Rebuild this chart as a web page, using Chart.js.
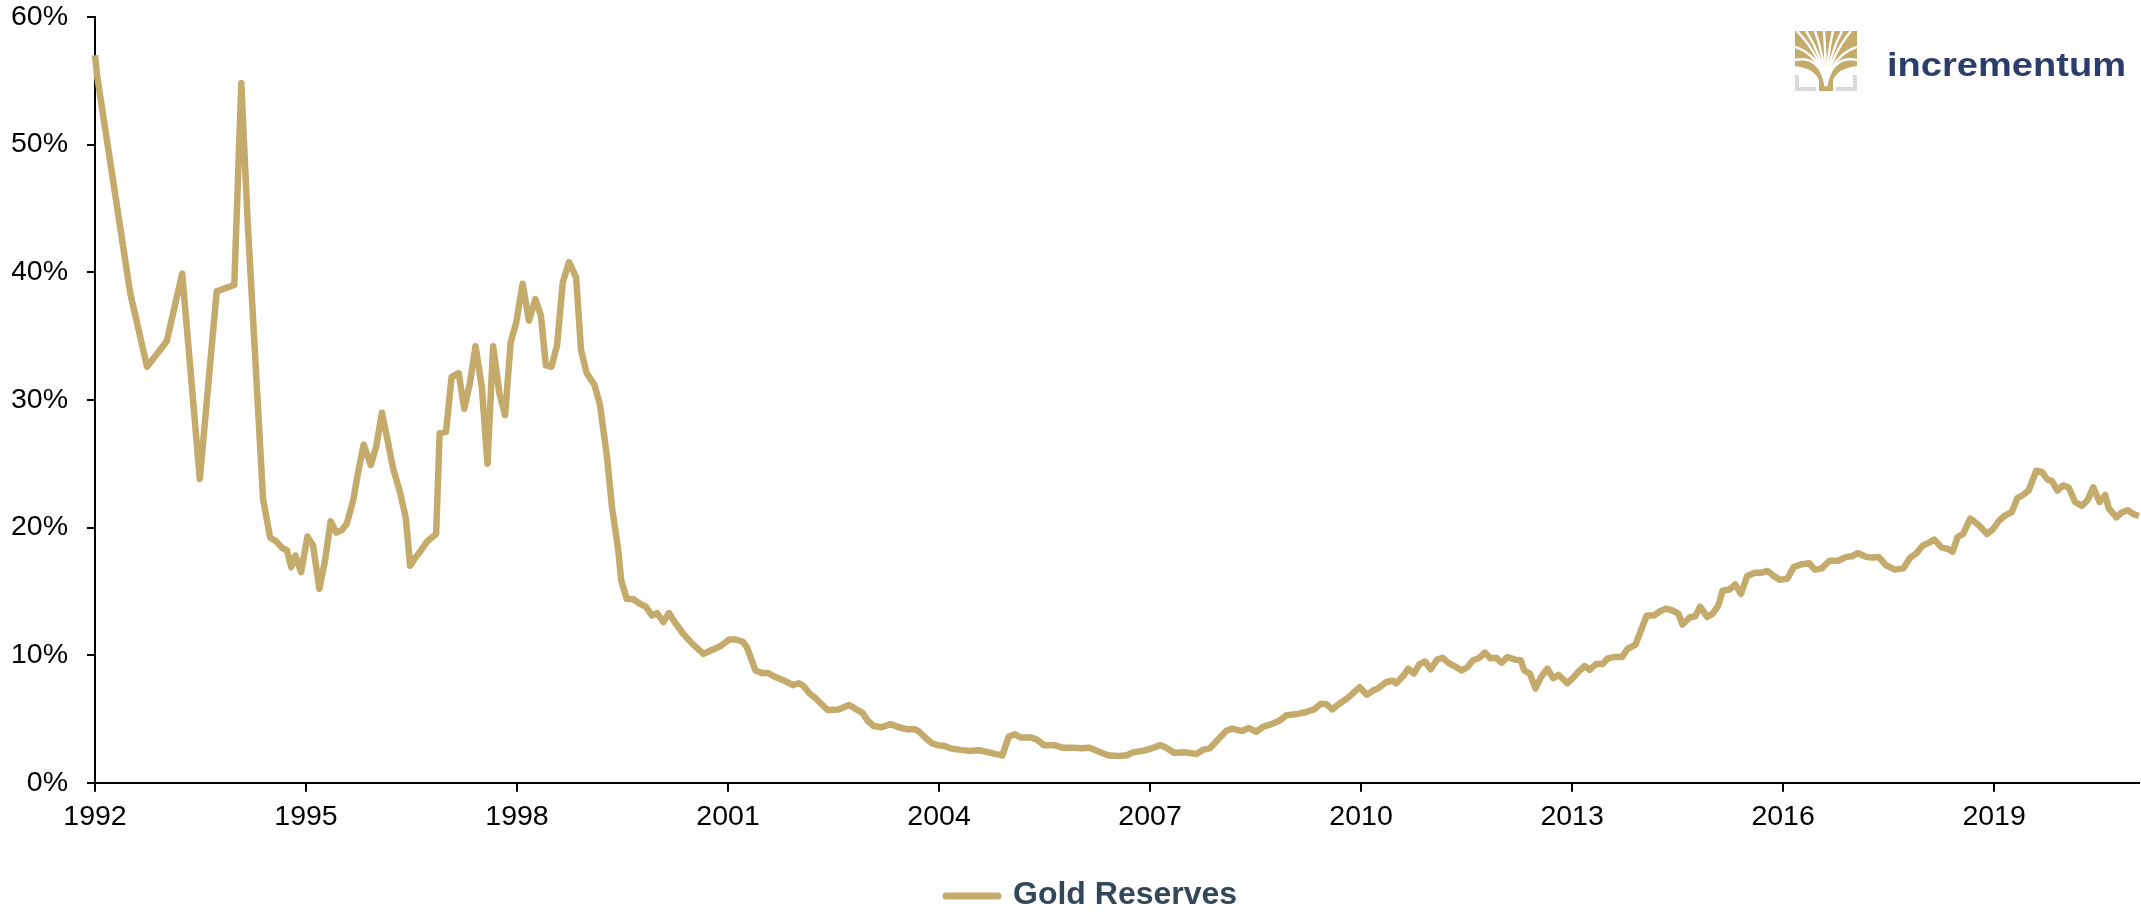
<!DOCTYPE html>
<html>
<head>
<meta charset="utf-8">
<title>Gold Reserves</title>
<script src="https://cdn.jsdelivr.net/npm/chart.js"></script>
<style>
  body { margin: 0; background: #fff; }
  #wrap { width: 2141px; height: 912px; position: relative; }
</style>
</head>
<body>
<div id="wrap"><canvas id="myChart"></canvas></div>
<script>
// gold share of reserves (x = decimal year, y = %)
const years_1992_1999 = [1992.00, 1992.03, 1992.50, 1992.74, 1993.02, 1993.24, 1993.49, 1993.73, 1993.98, 1994.08,
  1994.17, 1994.39, 1994.49, 1994.58, 1994.66, 1994.73, 1994.79, 1994.85, 1994.93, 1995.02,
  1995.10, 1995.19, 1995.27, 1995.35, 1995.43, 1995.51, 1995.58, 1995.67, 1995.74, 1995.82,
  1995.92, 1996.00, 1996.08, 1996.15, 1996.24, 1996.34, 1996.42, 1996.48, 1996.55, 1996.62,
  1996.72, 1996.85, 1996.90, 1996.99, 1997.07, 1997.17, 1997.25, 1997.33, 1997.41, 1997.50,
  1997.58, 1997.66, 1997.75, 1997.83, 1997.91, 1997.99, 1998.08, 1998.17, 1998.26, 1998.34,
  1998.41, 1998.49, 1998.57, 1998.65, 1998.74, 1998.84, 1998.91, 1998.99, 1999.10, 1999.18,
  1999.28, 1999.35, 1999.44, 1999.48, 1999.56, 1999.65, 1999.74, 1999.83, 1999.92, 1999.99];
const gold_1992_1999 = [57.0, 55.4, 38.4, 32.6, 34.6, 39.9, 23.8, 38.5, 39.0, 54.8,
  44.0, 22.2, 19.2, 18.9, 18.4, 18.2, 16.9, 17.8, 16.5, 19.3,
  18.6, 15.2, 17.4, 20.5, 19.6, 19.8, 20.3, 22.1, 24.3, 26.5,
  24.9, 26.4, 29.0, 27.1, 24.6, 22.7, 20.7, 17.0, 17.6, 18.1,
  18.9, 19.5, 27.4, 27.5, 31.8, 32.1, 29.3, 31.3, 34.2, 31.0,
  25.0, 34.2, 30.5, 28.8, 34.5, 36.1, 39.1, 36.2, 37.9, 36.6,
  32.7, 32.6, 34.3, 39.2, 40.8, 39.6, 33.9, 32.1, 31.2, 29.6,
  25.5, 21.6, 18.2, 15.9, 14.4, 14.4, 14.05, 13.8, 13.1, 13.3];

const years_2000_2008 = [2000.08, 2000.16, 2000.24, 2000.36, 2000.49, 2000.65, 2000.77, 2000.89, 2001.01, 2001.10,
  2001.21, 2001.27, 2001.39, 2001.48, 2001.57, 2001.69, 2001.80, 2001.92, 2002.01, 2002.07,
  2002.16, 2002.25, 2002.34, 2002.42, 2002.57, 2002.72, 2002.81, 2002.91, 2002.98, 2003.07,
  2003.18, 2003.31, 2003.43, 2003.54, 2003.66, 2003.72, 2003.81, 2003.90, 2003.98, 2004.07,
  2004.16, 2004.28, 2004.43, 2004.57, 2004.69, 2004.81, 2004.90, 2004.99, 2005.08, 2005.16,
  2005.31, 2005.40, 2005.49, 2005.64, 2005.75, 2005.90, 2006.02, 2006.14, 2006.25, 2006.40,
  2006.55, 2006.67, 2006.76, 2006.90, 2007.02, 2007.15, 2007.23, 2007.34, 2007.49, 2007.66,
  2007.76, 2007.85, 2007.96, 2008.08, 2008.17, 2008.31, 2008.40, 2008.51, 2008.61, 2008.73,
  2008.85, 2008.94];
const gold_2000_2008 = [12.6, 13.3, 12.6, 11.7, 10.9, 10.1, 10.4, 10.7, 11.2, 11.25,
  11.05, 10.6, 8.8, 8.6, 8.6, 8.25, 8.0, 7.65, 7.8, 7.6,
  7.0, 6.6, 6.1, 5.7, 5.75, 6.1, 5.8, 5.5, 4.9, 4.45,
  4.35, 4.6, 4.35, 4.2, 4.2, 4.0, 3.5, 3.1, 2.95, 2.9,
  2.7, 2.6, 2.5, 2.55, 2.4, 2.25, 2.15, 3.6, 3.8, 3.55,
  3.55, 3.35, 2.95, 2.95, 2.75, 2.75, 2.7, 2.75, 2.5, 2.15,
  2.1, 2.15, 2.4, 2.5, 2.7, 2.95, 2.75, 2.35, 2.4, 2.25,
  2.6, 2.7, 3.35, 4.05, 4.25, 4.05, 4.3, 4.0, 4.4, 4.6,
  4.9, 5.3];

const years_2009_2021 = [2009.10, 2009.22, 2009.33, 2009.43, 2009.51, 2009.59, 2009.69, 2009.80, 2009.87, 2009.98,
  2010.08, 2010.18, 2010.24, 2010.36, 2010.45, 2010.50, 2010.61, 2010.67, 2010.75, 2010.83,
  2010.91, 2010.99, 2011.08, 2011.16, 2011.24, 2011.34, 2011.43, 2011.51, 2011.59, 2011.67,
  2011.76, 2011.84, 2011.92, 2012.00, 2012.08, 2012.19, 2012.27, 2012.32, 2012.40, 2012.48,
  2012.56, 2012.65, 2012.73, 2012.81, 2012.93, 2013.01, 2013.09, 2013.18, 2013.25, 2013.34,
  2013.43, 2013.51, 2013.59, 2013.71, 2013.79, 2013.90, 2013.98, 2014.06, 2014.16, 2014.24,
  2014.33, 2014.43, 2014.51, 2014.57, 2014.67, 2014.75, 2014.82, 2014.92, 2015.00, 2015.08,
  2015.14, 2015.24, 2015.32, 2015.40, 2015.49, 2015.60, 2015.68, 2015.78, 2015.88, 2015.96,
  2016.06, 2016.15, 2016.25, 2016.37, 2016.45, 2016.55, 2016.66, 2016.78, 2016.90, 2016.98,
  2017.06, 2017.18, 2017.26, 2017.36, 2017.46, 2017.59, 2017.71, 2017.80, 2017.89, 2017.99,
  2018.07, 2018.15, 2018.25, 2018.35, 2018.41, 2018.48, 2018.56, 2018.66, 2018.78, 2018.90,
  2018.98, 2019.08, 2019.16, 2019.25, 2019.33, 2019.41, 2019.49, 2019.60, 2019.68, 2019.76,
  2019.82, 2019.90, 2019.98, 2020.06, 2020.15, 2020.25, 2020.33, 2020.41, 2020.50, 2020.58,
  2020.63, 2020.74, 2020.82, 2020.90, 2020.98, 2021.06];
const gold_2009_2021 = [5.4, 5.55, 5.75, 6.2, 6.15, 5.75, 6.2, 6.6, 6.95, 7.5,
  6.9, 7.25, 7.4, 7.9, 8.0, 7.8, 8.45, 8.95, 8.55, 9.3,
  9.5, 8.9, 9.65, 9.8, 9.4, 9.1, 8.8, 9.05, 9.6, 9.75,
  10.2, 9.75, 9.8, 9.4, 9.85, 9.65, 9.6, 8.8, 8.55, 7.4,
  8.3, 8.95, 8.2, 8.45, 7.8, 8.2, 8.7, 9.15, 8.85, 9.3,
  9.3, 9.75, 9.85, 9.85, 10.5, 10.8, 11.95, 13.1, 13.1, 13.4,
  13.65, 13.5, 13.25, 12.4, 12.95, 13.05, 13.8, 13.0, 13.25, 13.9,
  15.05, 15.15, 15.55, 14.8, 16.2, 16.45, 16.45, 16.6, 16.15, 15.9,
  16.0, 16.9, 17.1, 17.2, 16.7, 16.8, 17.4, 17.4, 17.7, 17.75,
  18.0, 17.7, 17.65, 17.7, 17.05, 16.7, 16.8, 17.6, 17.95, 18.6,
  18.8, 19.05, 18.45, 18.3, 18.1, 19.25, 19.5, 20.7, 20.2, 19.5,
  19.85, 20.6, 20.95, 21.2, 22.3, 22.55, 22.9, 24.45, 24.35, 23.75,
  23.65, 22.9, 23.3, 23.15, 22.0, 21.7, 22.15, 23.15, 22.0, 22.55,
  21.5, 20.8, 21.2, 21.35, 21.05, 20.9];

// tick labels
const yearTicks = [1992, 1995, 1998, 2001, 2004, 2007, 2010, 2013, 2016, 2019];
const percentTicks = [0, 10, 20, 30, 40, 50, 60];

const gold = "#c4aa6b";
const navy = "#2b3e6b";
const fontFamily = "Arial, 'Liberation Sans', sans-serif";

function toPoints(xs, ys) {
  return xs.map((x, i) => ({ x: x, y: ys[i] }));
}

const points = [].concat(
  toPoints(years_1992_1999, gold_1992_1999),
  toPoints(years_2000_2008, gold_2000_2008),
  toPoints(years_2009_2021, gold_2009_2021)
);

// legend under the chart, drawn by hand so it sits where the original has it
const bottomLegend = {
  id: "bottomLegend",
  afterDraw(chart) {
    const ctx = chart.ctx;
    const ds = chart.data.datasets[0];
    ctx.save();
    ctx.strokeStyle = ds.borderColor;
    ctx.lineWidth = 7;
    ctx.lineCap = "round";
    ctx.beginPath();
    ctx.moveTo(946, 896);
    ctx.lineTo(998, 896);
    ctx.stroke();
    ctx.fillStyle = "#33475b";
    ctx.font = "bold 32px " + fontFamily;
    ctx.textBaseline = "middle";
    ctx.fillText(ds.label, 1013, 895);
    ctx.restore();
  }
};

// incrementum logo, top right
const logo = {
  id: "logo",
  afterDraw(chart) {
    const ctx = chart.ctx;
    ctx.save();

    // canopy + trunk
    ctx.save();
    ctx.beginPath();
    ctx.moveTo(1795, 31);
    ctx.lineTo(1857, 31);
    ctx.lineTo(1857, 66);
    ctx.quadraticCurveTo(1838, 68, 1833, 80);
    ctx.lineTo(1833, 91);
    ctx.lineTo(1819, 91);
    ctx.lineTo(1819, 80);
    ctx.quadraticCurveTo(1814, 68, 1795, 66);
    ctx.closePath();
    ctx.clip();
    ctx.fillStyle = gold;
    ctx.fillRect(1795, 31, 62, 60);
    ctx.strokeStyle = "#fff";
    ctx.lineWidth = 2.4;
    const ends = [[1795, 60], [1795, 47], [1797, 31], [1806, 31], [1815, 31], [1824, 31],
                  [1833, 31], [1842, 31], [1851, 31], [1857, 47], [1857, 60]];
    ends.forEach(function (e) {
      ctx.beginPath();
      ctx.moveTo(1826, 86);
      ctx.quadraticCurveTo(1826 + (e[0] - 1826) * 0.2, 55, e[0], e[1]);
      ctx.stroke();
    });
    ctx.restore();

    // grey brackets
    ctx.fillStyle = "#d9d9d9";
    ctx.fillRect(1795, 75, 4, 16);
    ctx.fillRect(1795, 87, 21, 4);
    ctx.fillRect(1853, 75, 4, 16);
    ctx.fillRect(1836, 87, 21, 4);

    // name
    ctx.fillStyle = navy;
    ctx.font = "bold 34px " + fontFamily;
    ctx.textBaseline = "alphabetic";
    const w = ctx.measureText("incrementum").width;
    ctx.translate(1887, 76);
    ctx.scale(239 / w, 1);
    ctx.fillText("incrementum", 0, 0);
    ctx.restore();
  }
};

const ctx = document.getElementById("myChart");
const myChart = new Chart(ctx, {
  type: "line",
  data: {
    datasets: [{
      label: "Gold Reserves",
      data: points,
      borderColor: gold,
      backgroundColor: gold,
      borderWidth: 6.5,
      borderJoinStyle: "round",
      pointRadius: 0,
      tension: 0,
      clip: false
    }]
  },
  options: {
    responsive: true,
    maintainAspectRatio: false,
    animation: false,
    layout: { padding: { left: 12, right: 2, top: 0, bottom: 70 } },
    plugins: {
      legend: { display: false },
      tooltip: { enabled: false }
    },
    scales: {
      x: {
        type: "linear",
        min: 1992,
        max: 2021.06,
        afterBuildTicks: axis => { axis.ticks = yearTicks.map(v => ({ value: v })); },
        ticks: {
          autoSkip: false,
          maxRotation: 0,
          padding: 8,
          color: "#000",
          font: { family: fontFamily, size: 28.5 },
          callback: v => String(v)
        },
        grid: { drawOnChartArea: false, drawTicks: true, tickLength: 9, color: "#000", lineWidth: 2 },
        border: { display: true, color: "#000", width: 2 }
      },
      y: {
        min: 0,
        max: 60,
        afterBuildTicks: axis => { axis.ticks = percentTicks.map(v => ({ value: v })); },
        afterFit: axis => { axis.width = 83; axis.paddingTop = 17; },
        ticks: {
          padding: 19,
          color: "#000",
          font: { family: fontFamily, size: 28.5 },
          callback: v => v + "%"
        },
        grid: { drawOnChartArea: false, drawTicks: true, tickLength: 8, color: "#000", lineWidth: 2 },
        border: { display: true, color: "#000", width: 2 }
      }
    }
  },
  plugins: [bottomLegend, logo]
});
</script>
</body>
</html>
